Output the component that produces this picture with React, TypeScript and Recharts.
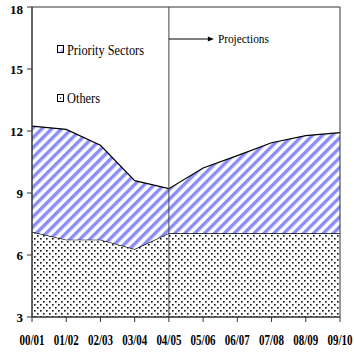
import React from 'react';
import { AreaChart, Area, XAxis, YAxis, ReferenceLine, ReferenceArea } from 'recharts';

const years = ['00/01', '01/02', '02/03', '03/04', '04/05', '05/06', '06/07', '07/08', '08/09', '09/10'];
const others = [7.12, 6.74, 6.74, 6.29, 7.05, 7.05, 7.05, 7.05, 7.05, 7.05];
const priority = [5.12, 5.34, 4.57, 3.31, 2.16, 3.16, 3.76, 4.38, 4.73, 4.87];
const yTicks = [3, 6, 9, 12, 15, 18];
const projectionStart = '04/05';

const data = years.map((year, i) => ({ year, others: others[i], priority: priority[i] }));

const serif = { fontFamily: '"Liberation Serif", "DejaVu Serif", serif' };

const XTick = (props: any) => {
  const { x, y, payload } = props;
  return (
    <text x={x} y={y} dy="0.71em" textAnchor="middle" style={serif} fontWeight="bold"
      fontSize={14} fill="#000" textLength={25} lengthAdjust="spacingAndGlyphs">
      {payload.value}
    </text>
  );
};

const YTick = (props: any) => {
  const { x, y, payload } = props;
  return (
    <text x={x} y={y} dy="0.355em" textAnchor="end" style={serif} fontWeight="bold"
      fontSize={13} fill="#000">
      {payload.value}
    </text>
  );
};

// arrow + "Projections" hanging off the reference line
const ProjLabel = (props: any) => {
  const vb = props.viewBox || {};
  const x = vb.x ?? 0;
  const y = (vb.y ?? 0) + 32;
  return (
    <g>
      <line x1={x} y1={y} x2={x + 40} y2={y} stroke="#000" strokeWidth={1} />
      <polygon points={`${x + 45},${y} ${x + 39},${y - 2.5} ${x + 39},${y + 2.5}`} fill="#000" />
      <text x={x + 49} y={y} dy="0.35em" style={serif} fontSize={12} fill="#000"
        textLength={51} lengthAdjust="spacingAndGlyphs">
        Projections
      </text>
    </g>
  );
};

const Patterns = () => (
  <defs>
    <pattern id="stripes" patternUnits="userSpaceOnUse" width={7} height={7} patternTransform="rotate(45)">
      <rect x={0} y={0} width={7} height={7} fill="#ffffff" />
      <rect x={0} y={0} width={3.4} height={7} fill="#8a8cf8" />
    </pattern>
    <pattern id="dots" patternUnits="userSpaceOnUse" width={6} height={6}>
      <rect x={0} y={0} width={6} height={6} fill="#ffffff" />
      <rect x={1} y={1} width={1.6} height={1.6} fill="#111" />
      <rect x={4} y={4} width={1.6} height={1.6} fill="#111" />
    </pattern>
  </defs>
);

const LegendBox = () => (
  <div style={{ position: 'absolute', left: 0, top: 0, pointerEvents: 'none' }}>
    <svg width={200} height={120}>
      <defs>
        <linearGradient id="lgBlue" x1="0" y1="0" x2="1" y2="1">
          <stop offset="0.5" stopColor="#ffffff" />
          <stop offset="1" stopColor="#6f70f0" />
        </linearGradient>
      </defs>
      <rect x={57.5} y={45.5} width={6} height={7} fill="url(#lgBlue)" stroke="#000" strokeWidth={1} />
      <text x={67} y={50} dy="0.35em" style={serif} fontSize={15} fill="#000"
        textLength={77} lengthAdjust="spacingAndGlyphs">Priority Sectors</text>
      <rect x={57.5} y={94.5} width={6} height={7} fill="#fff" stroke="#000" strokeWidth={1} />
      <rect x={60} y={97.5} width={1.2} height={1.2} fill="#000" />
      <text x={67} y={98} dy="0.35em" style={serif} fontSize={15} fill="#000"
        textLength={33} lengthAdjust="spacingAndGlyphs">Others</text>
    </svg>
  </div>
);

export default function App() {
  return (
    <div style={{ position: 'absolute', left: 0, top: 0, width: 354, height: 352, background: '#fff' }}>
      <AreaChart width={354} height={352} data={data} margin={{ top: 7, right: 14, left: 0, bottom: 0 }}>
        <Patterns />
        <XAxis dataKey="year" height={35} tick={<XTick />} tickSize={5} tickMargin={13}
          axisLine={{ stroke: '#333' }} tickLine={{ stroke: '#333' }} interval={0} />
        <YAxis domain={[3, 18]} ticks={yTicks} allowDataOverflow width={32} tick={<YTick />}
          tickSize={5} tickMargin={4} axisLine={{ stroke: '#333' }} tickLine={{ stroke: '#333' }} />
        <Area type="linear" dataKey="others" stackId="a" stroke="#000" strokeWidth={1.2}
          fill="url(#dots)" fillOpacity={1} isAnimationActive={false} />
        <Area type="linear" dataKey="priority" stackId="a" stroke="#000" strokeWidth={1.2}
          fill="url(#stripes)" fillOpacity={1} isAnimationActive={false} />
        <ReferenceArea x1={years[0]} x2={years[years.length - 1]} y1={3} y2={18}
          fill="none" stroke="#333" strokeWidth={1} />
        <ReferenceLine x={projectionStart} stroke="#444" strokeWidth={1} label={<ProjLabel />} />
      </AreaChart>
      <LegendBox />
    </div>
  );
}
